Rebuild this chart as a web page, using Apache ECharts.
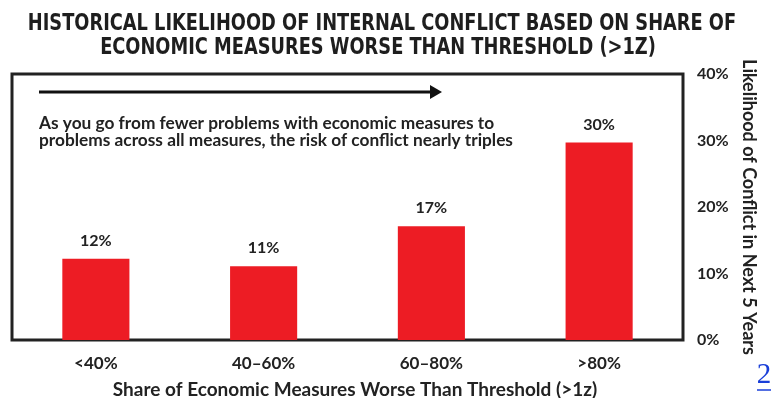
<!DOCTYPE html>
<html><head><meta charset="utf-8">
<script src="https://cdn.jsdelivr.net/npm/echarts@6/dist/echarts.min.js"></script>
<style>html,body{margin:0;padding:0;background:#fff}#c{width:771px;height:398px}</style>
</head><body><div id="c"></div>
<script>
const categories = ['<40%', '40–60%', '60–80%', '>80%'];
const likelihood = [12.2, 11.1, 17.1, 29.7];
const labels = ['12%', '11%', '17%', '30%'];
const yTicks = [0, 10, 20, 30, 40];
const titleLines = ['HISTORICAL LIKELIHOOD OF INTERNAL CONFLICT BASED ON SHARE OF', 'ECONOMIC MEASURES WORSE THAN THRESHOLD (>1Z)'];
const noteText = 'As you go from fewer problems with economic measures to\nproblems across all measures, the risk of conflict nearly triples';

const F = 'Lato, "Noto Sans", sans-serif';
const TF = '"DejaVu Sans Condensed", "DejaVu Sans", sans-serif';
const chart = echarts.init(document.getElementById('c'));
chart.setOption({
  animation: false,
  backgroundColor: '#fff',
  grid: { left: 12, right: 88, top: 74, bottom: 58, containLabel: false, outerBoundsMode: 'none', show: true, borderColor: '#222', borderWidth: 3, backgroundColor: 'transparent' },
  xAxis: {
    type: 'category', data: categories,
    axisLine: { show: false }, axisTick: { show: false },
    axisLabel: { margin: 15, fontFamily: F, fontWeight: 'bold', fontSize: 17, color: '#222' },
    name: 'Share of Economic Measures Worse Than Threshold (>1z)', nameLocation: 'middle', nameGap: 40,
    nameTextStyle: { fontFamily: F, fontWeight: 'bold', fontSize: 19, color: '#222', padding: [0, 0, 0, 15] }
  },
  yAxis: {
    type: 'value', position: 'right', min: yTicks[0], max: yTicks[yTicks.length - 1], interval: 10,
    splitLine: { show: false }, axisLine: { show: false }, axisTick: { show: false },
    axisLabel: { margin: 14, formatter: '{value}%', fontFamily: F, fontWeight: 'bold', fontSize: 16, color: '#222' },
    name: 'Likelihood of Conflict in Next 5 Years', nameLocation: 'middle', nameRotate: -90, nameGap: 55,
    nameTextStyle: { fontFamily: F, fontWeight: 'bold', fontSize: 18, color: '#222' }
  },
  series: [{
    type: 'bar', data: likelihood, barWidth: '40%',
    itemStyle: { color: '#ED1C24' },
    label: { show: true, position: 'top', distance: 10, formatter: p => labels[p.dataIndex],
      fontFamily: F, fontWeight: 'bold', fontSize: 16, color: '#222' }
  }],
  graphic: [
    { type: 'text', x: 382, y: 24, scaleX: 0.86, style: { text: titleLines[0], align: 'center', verticalAlign: 'middle', fontFamily: TF, fontWeight: 'bold', fontSize: 23, fill: '#1e1e1e' } },
    { type: 'text', x: 378, y: 48, scaleX: 0.86, style: { text: titleLines[1], align: 'center', verticalAlign: 'middle', fontFamily: TF, fontWeight: 'bold', fontSize: 23, fill: '#1e1e1e' } },
    { type: 'line', shape: { x1: 39, y1: 92, x2: 432, y2: 92 }, style: { stroke: '#111', lineWidth: 3 } },
    { type: 'polygon', shape: { points: [[430, 85], [442, 92], [430, 99]] }, style: { fill: '#111' } },
    { type: 'text', left: 39, top: 115, style: { text: noteText, fontFamily: F, fontWeight: 'bold', fontSize: 17.3, lineHeight: 16.5, fill: '#222' } },
    { type: 'text', x: 764, y: 375, style: { text: '2', align: 'center', verticalAlign: 'middle', fontFamily: '"Liberation Serif", serif', fontSize: 29, fill: '#1a3fd8' } },
    { type: 'line', shape: { x1: 757, y1: 390, x2: 771, y2: 390 }, style: { stroke: '#1a3fd8', lineWidth: 1.5 } }
  ]
});
</script></body></html>
